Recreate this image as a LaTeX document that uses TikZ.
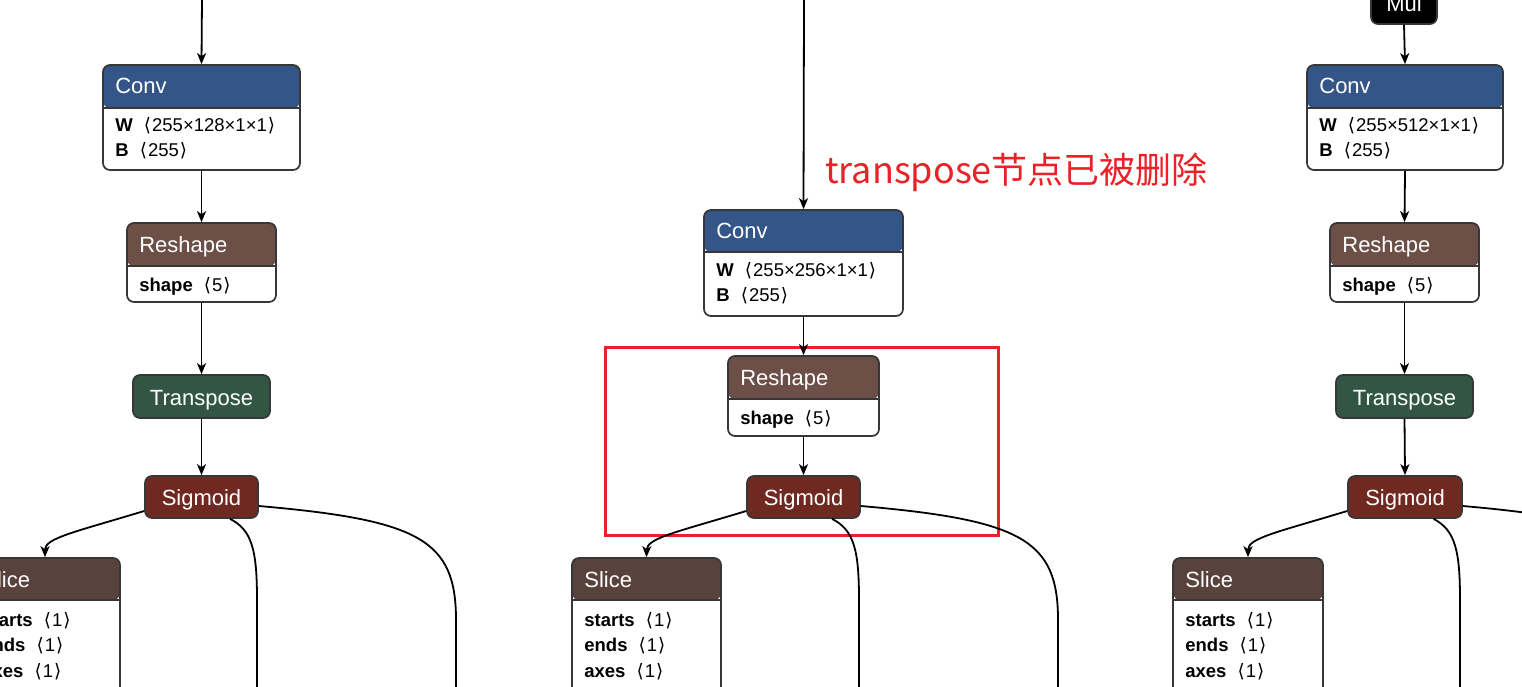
\documentclass[tikz,border=0pt]{standalone}
\usepackage{fontspec}
\setmainfont{Liberation Sans}
\newfontfamily\brfont{DejaVu Sans}
\newfontfamily\cjkfont{Noto Sans CJK SC}
\usetikzlibrary{arrows.meta,calc}
\definecolor{layercol}{RGB}{51,85,136}
\definecolor{shapecol}{RGB}{108,79,71}
\definecolor{transcol}{RGB}{51,85,68}
\definecolor{actcol}{RGB}{112,41,33}
\definecolor{tensorcol}{RGB}{89,66,59}
\definecolor{bordercol}{RGB}{55,55,55}
\definecolor{notered}{RGB}{234,33,39}
\newcommand\hdrfont{\fontsize{22}{26}\selectfont}
\newcommand\attrfont{\fontsize{18.5}{22}\selectfont}
\newcommand\angL{{\brfont ⟨}}
\newcommand\angR{{\brfont ⟩}}
\newcommand\attr[2]{\textbf{#1}~\hspace{6pt}\angL\hspace{1pt}#2\hspace{1pt}\angR}
\tikzset{
  edge/.style={line width=1.8pt,-{Stealth[length=11pt,width=9pt,inset=3pt]}},
  plainline/.style={line width=1.8pt},
  opbox/.style={draw=bordercol,line width=1.7pt,rounded corners=7pt,fill=white,inner sep=0pt},
  simple/.style={draw=bordercol,line width=1.7pt,rounded corners=7pt,text=white,
    font=\hdrfont,inner sep=0pt,text height=21pt,text depth=4pt},
  ttl/.style={anchor=base west,inner sep=0pt,text=white,font=\hdrfont},
  atr/.style={anchor=base west,inner sep=0pt,text=black,font=\attrfont},
}
% name, x1, y1, x2, y2, header height, colour
\newcommand\opbox[7]{%
  \node[opbox,minimum width={(#4-(#2))*1pt},minimum height={(#5-(#3))*1pt},
    path picture={
      \fill[#7] (path picture bounding box.north west) rectangle
        ([yshift=-#6pt]path picture bounding box.north east);
      \draw[bordercol,line width=1.2pt] ([yshift=-#6pt]path picture bounding box.north west) --
        ([yshift=-#6pt]path picture bounding box.north east);}]
    (#1) at ({(#2+#4)/2},{(#3+#5)/2}) {};}
% sigmoid, slice, dx
\newcommand\fanout[3]{%
  \draw[edge] ([yshift=-14pt]#1.west) .. controls ({75+#3},532) and ({45+#3},538) .. (#2.north);
  \draw[plainline] ([xshift=28.5pt]#1.south) .. controls ({252+#3},530) and ({257+#3},550) .. ({257+#3},600) -- ({257+#3},700);
  \draw[plainline] ([yshift=-9pt]#1.east) .. controls ({420+#3},520) and ({456+#3},540) .. ({456+#3},620) -- ({456+#3},700);}
\begin{document}
\begin{tikzpicture}[x=1pt,y=-1pt]
\useasboundingbox (0,0) rectangle (1522,686);
\clip (0,0) rectangle (1522,686);
\fill[white] (0,0) rectangle (1522,686);

% ---------- left column ----------
\coordinate (in1) at (202,-2);
\opbox{c1}{103}{65}{300}{170}{43}{layercol}
\node[ttl] at ([xshift=13pt,yshift=-29pt]c1.north west) {Conv};
\node[atr] at ([xshift=13pt,yshift=-67pt]c1.north west) {\attr{W}{255×128×1×1}};
\node[atr] at ([xshift=13pt,yshift=-92pt]c1.north west) {\attr{B}{255}};
\opbox{r1}{127}{223}{276}{302}{43}{shapecol}
\node[ttl] at ([xshift=13pt,yshift=-30pt]r1.north west) {Reshape};
\node[atr] at ([xshift=13pt,yshift=-69pt]r1.north west) {\attr{shape}{5}};
\node[simple,fill=transcol,minimum width=137pt,minimum height=43pt] (t1) at (201.5,396.5) {Transpose};
\node[simple,fill=actcol,minimum width=113pt,minimum height=42pt] (s1) at (201.5,497) {Sigmoid};
\opbox{l1}{-30}{558}{120}{720}{42}{tensorcol}
\node[ttl] at ([xshift=13pt,yshift=-30pt]l1.north west) {Slice};
\node[atr] at ([xshift=13pt,yshift=-69pt]l1.north west) {\attr{starts}{1}};
\node[atr] at ([xshift=13pt,yshift=-94pt]l1.north west) {\attr{ends}{1}};
\node[atr] at ([xshift=13pt,yshift=-120pt]l1.north west) {\attr{axes}{1}};
\draw[edge] (in1) -- (c1.north);
\draw[edge] (c1.south) -- (r1.north);
\draw[edge] (r1.south) -- (t1.north);
\draw[edge] (t1.south) -- (s1.north);
\fanout{s1}{l1}{0}

% ---------- middle column ----------
\node[draw=notered,line width=3pt,minimum width=393pt,minimum height=188pt,inner sep=0pt] (hl) at (801.5,441) {};
\node[anchor=base west,inner sep=0pt,text=notered,font=\cjkfont\fontsize{36}{40}\selectfont] (note) at (825,183) {transpose节点已被删除};
\coordinate (in2) at (804,-2);
\opbox{c2}{704}{210}{903}{316}{42}{layercol}
\node[ttl] at ([xshift=13pt,yshift=-29pt]c2.north west) {Conv};
\node[atr] at ([xshift=13pt,yshift=-67pt]c2.north west) {\attr{W}{255×256×1×1}};
\node[atr] at ([xshift=13pt,yshift=-92pt]c2.north west) {\attr{B}{255}};
\opbox{r2}{728}{356}{879}{436}{43}{shapecol}
\node[ttl] at ([xshift=13pt,yshift=-30pt]r2.north west) {Reshape};
\node[atr] at ([xshift=13pt,yshift=-69pt]r2.north west) {\attr{shape}{5}};
\node[simple,fill=actcol,minimum width=113pt,minimum height=42pt] (s2) at (803.5,497) {Sigmoid};
\opbox{l2}{572}{558}{721}{720}{42}{tensorcol}
\node[ttl] at ([xshift=13pt,yshift=-30pt]l2.north west) {Slice};
\node[atr] at ([xshift=13pt,yshift=-69pt]l2.north west) {\attr{starts}{1}};
\node[atr] at ([xshift=13pt,yshift=-94pt]l2.north west) {\attr{ends}{1}};
\node[atr] at ([xshift=13pt,yshift=-120pt]l2.north west) {\attr{axes}{1}};
\draw[edge] (in2) -- (c2.north);
\draw[edge] (c2.south) -- (r2.north);
\draw[edge] (r2.south) -- (s2.north);
\fanout{s2}{l2}{602}

% ---------- right column ----------
\node[simple,fill=black,minimum width=66pt,minimum height=42pt] (m3) at (1404,3) {Mul};
\opbox{c3}{1307}{65}{1503}{170}{43}{layercol}
\node[ttl] at ([xshift=13pt,yshift=-29pt]c3.north west) {Conv};
\node[atr] at ([xshift=13pt,yshift=-67pt]c3.north west) {\attr{W}{255×512×1×1}};
\node[atr] at ([xshift=13pt,yshift=-92pt]c3.north west) {\attr{B}{255}};
\opbox{r3}{1330}{223}{1479}{302}{43}{shapecol}
\node[ttl] at ([xshift=13pt,yshift=-30pt]r3.north west) {Reshape};
\node[atr] at ([xshift=13pt,yshift=-69pt]r3.north west) {\attr{shape}{5}};
\node[simple,fill=transcol,minimum width=137pt,minimum height=43pt] (t3) at (1404.5,396.5) {Transpose};
\node[simple,fill=actcol,minimum width=114pt,minimum height=42pt] (s3) at (1405,497) {Sigmoid};
\opbox{l3}{1173}{558}{1323}{720}{42}{tensorcol}
\node[ttl] at ([xshift=13pt,yshift=-30pt]l3.north west) {Slice};
\node[atr] at ([xshift=13pt,yshift=-69pt]l3.north west) {\attr{starts}{1}};
\node[atr] at ([xshift=13pt,yshift=-94pt]l3.north west) {\attr{ends}{1}};
\node[atr] at ([xshift=13pt,yshift=-120pt]l3.north west) {\attr{axes}{1}};
\draw[edge] (m3.south) -- (c3.north);
\draw[edge] (c3.south) -- (r3.north);
\draw[edge] (r3.south) -- (t3.north);
\draw[edge] (t3.south) -- (s3.north);
\fanout{s3}{l3}{1203}
\end{tikzpicture}
\end{document}
